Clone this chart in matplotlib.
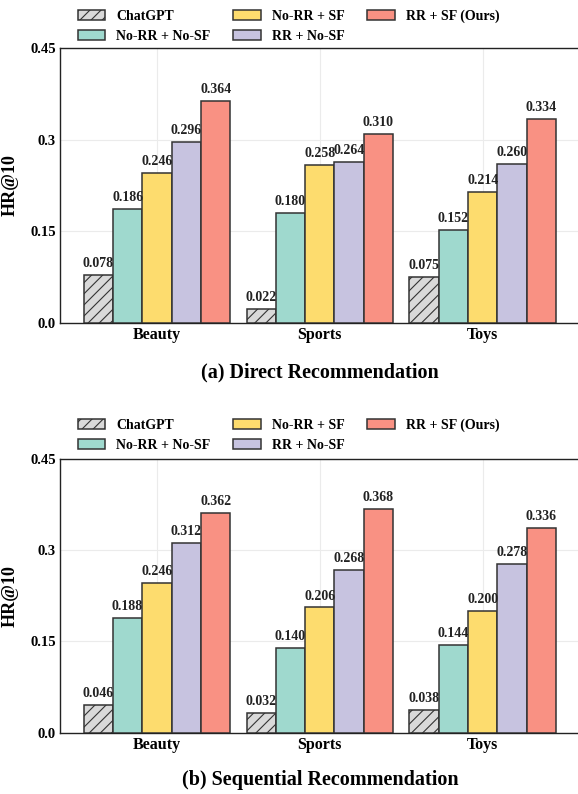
import numpy as np
import matplotlib
matplotlib.use("Agg")
import matplotlib.pyplot as plt

# data
categories = ["Beauty", "Sports", "Toys"]
methods = ["ChatGPT", "No-RR + No-SF", "No-RR + SF", "RR + No-SF", "RR + SF (Ours)"]
direct = [
    [0.078, 0.022, 0.075],
    [0.186, 0.180, 0.152],
    [0.246, 0.258, 0.214],
    [0.296, 0.264, 0.260],
    [0.364, 0.310, 0.334],
]
sequential = [
    [0.046, 0.032, 0.038],
    [0.188, 0.140, 0.144],
    [0.246, 0.206, 0.200],
    [0.312, 0.268, 0.278],
    [0.362, 0.368, 0.336],
]
yticks = [0.0, 0.15, 0.3, 0.45]
ytick_labels = ["0.0", "0.15", "0.3", "0.45"]
titles = ["(a) Direct Recommendation", "(b) Sequential Recommendation"]

colors = ["#d9d9d9", "#9fd9ce", "#fddc6e", "#c7c3e0", "#f99183"]
hatches = ["///", None, None, None, None]

plt.rcParams["font.family"] = ["Liberation Serif", "DejaVu Serif"]
plt.rcParams["font.weight"] = "bold"
plt.rcParams["hatch.linewidth"] = 0.8

W, H = 578, 794
fig = plt.figure(figsize=(W / 100, H / 100), dpi=100)


def fx(px):
    return px / W


def fy(py):
    return 1 - py / H


# (data, axes top px, axes bottom px, legend top px, title y px)
panels = [
    (direct, 48.3, 322.7, -3, 372),
    (sequential, 459, 732.7, 406, 780),
]

x = np.arange(len(categories))
width = 0.18

for k, (data, top, bot, leg_y, title_y) in enumerate(panels):
    ax = fig.add_axes([fx(60), fy(bot), 1 - fx(60), (bot - top) / H])
    for i, (name, vals) in enumerate(zip(methods, data)):
        pos = x + (i - 2) * width
        bars = ax.bar(pos, vals, width, color=colors[i], edgecolor="#333333",
                      linewidth=1.1, hatch=hatches[i], label=name, zorder=3)
        for b, v in zip(bars, vals):
            ax.text(b.get_x() + b.get_width() / 2, v + 0.008, f"{v:.3f}",
                    ha="center", va="bottom", fontsize=10, fontweight="bold",
                    color="#222222", zorder=4)
    ax.set_xlim(-0.595, 2.585)
    ax.set_ylim(0, 0.45)
    ax.set_xticks(x)
    ax.set_xticklabels(categories, fontsize=11.5, fontweight="bold")
    ax.set_yticks(yticks)
    ax.set_yticklabels(ytick_labels, fontsize=10.5, fontweight="bold")
    ax.tick_params(length=0, pad=3)
    ax.grid(True, color="#ebebeb", linewidth=0.8, zorder=0)
    ax.set_axisbelow(True)
    ax.set_ylabel("HR@10", fontsize=13, fontweight="bold")
    ax.yaxis.set_label_coords(-0.08, 0.5)
    for s in ["left", "bottom", "top"]:
        ax.spines[s].set_color("#222222")
        ax.spines[s].set_linewidth(1.0)
    ax.spines["right"].set_visible(False)
    fig.legend(*ax.get_legend_handles_labels(), loc="upper left",
               bbox_to_anchor=(fx(65), fy(leg_y)), ncol=3, frameon=False,
               prop={"size": 10, "weight": "bold"}, handlelength=2.0,
               handleheight=0.75, columnspacing=1.6, handletextpad=0.8,
               labelspacing=0.5)
    fig.text(fx(320), fy(title_y), titles[k],
             ha="center", va="center", fontsize=14.5, fontweight="bold")

fig.savefig("out.png", dpi=100)
